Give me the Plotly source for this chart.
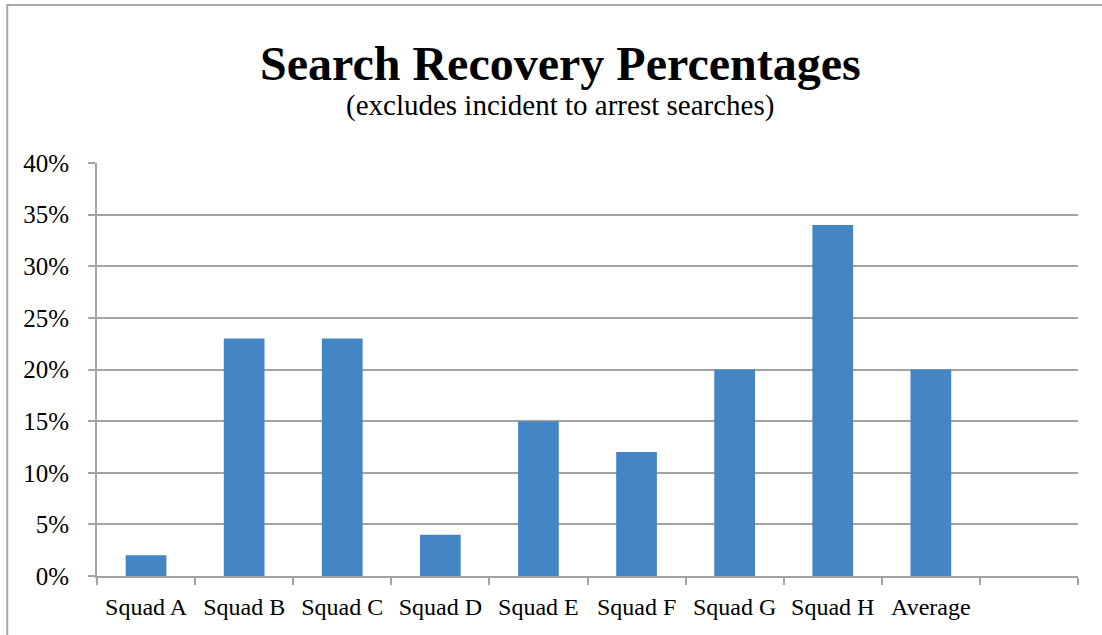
import plotly.graph_objects as go

categories = ["Squad A", "Squad B", "Squad C", "Squad D", "Squad E",
              "Squad F", "Squad G", "Squad H", "Average", " "]
values = [0.02, 0.23, 0.23, 0.04, 0.15, 0.12, 0.20, 0.34, 0.20, None]
y_ticks = [0, 0.05, 0.10, 0.15, 0.20, 0.25, 0.30, 0.35, 0.40]
y_tick_labels = ["0%", "5%", "10%", "15%", "20%", "25%", "30%", "35%", "40%"]

title_text = "Search Recovery Percentages"
subtitle_text = "(excludes incident to arrest searches)"

FONT = "Liberation Serif, Times New Roman, serif"
GRID = "#a3a3a3"

fig = go.Figure()
fig.add_trace(go.Bar(
    x=categories, y=values,
    marker=dict(color="#4485c4", line=dict(width=0)),
    hoverinfo="x+y",
))

fig.update_layout(
    width=1102, height=635,
    margin=dict(l=97, r=24, t=163, b=59),
    paper_bgcolor="white", plot_bgcolor="white",
    bargap=0.585,
    showlegend=False,
    font=dict(family=FONT, color="black"),
    annotations=[
        dict(text="<b>" + title_text + "</b>", xref="paper", yref="paper",
             x=0.472, y=1.24, xanchor="center", yanchor="middle",
             showarrow=False, font=dict(family=FONT, size=48, color="black")),
        dict(text=subtitle_text, xref="paper", yref="paper",
             x=0.472, y=1.14, xanchor="center", yanchor="middle",
             showarrow=False, font=dict(family=FONT, size=29, color="black")),
    ],
    shapes=[
        dict(type="rect", xref="paper", yref="paper",
             x0=-0.0915, x1=1.2, y0=-0.5, y1=1.3826,
             line=dict(color="#a8a8a8", width=2), fillcolor="rgba(0,0,0,0)",
             layer="below"),
    ],
)

fig.update_xaxes(
    type="category",
    categoryorder="array", categoryarray=categories,
    range=[-0.5, len(categories) - 0.5],
    tickson="boundaries",
    ticks="outside", ticklen=7, tickwidth=2, tickcolor=GRID,
    showline=True, linecolor=GRID, linewidth=2,
    showgrid=False,
    tickfont=dict(family=FONT, size=24, color="black"),
    ticklabelstandoff=8,
)

fig.update_yaxes(
    range=[0, 0.40],
    tickvals=y_ticks, ticktext=y_tick_labels,
    ticks="outside", ticklen=7, tickwidth=2, tickcolor=GRID,
    showline=True, linecolor=GRID, linewidth=2,
    showgrid=True, gridcolor=GRID, gridwidth=2,
    zeroline=False,
    tickfont=dict(family=FONT, size=25, color="black"),
    ticklabelstandoff=14,
)

fig.write_html("out.html",
               config={"displayModeBar": False},
               post_script="document.body.style.margin='0';document.body.style.padding='0';")
